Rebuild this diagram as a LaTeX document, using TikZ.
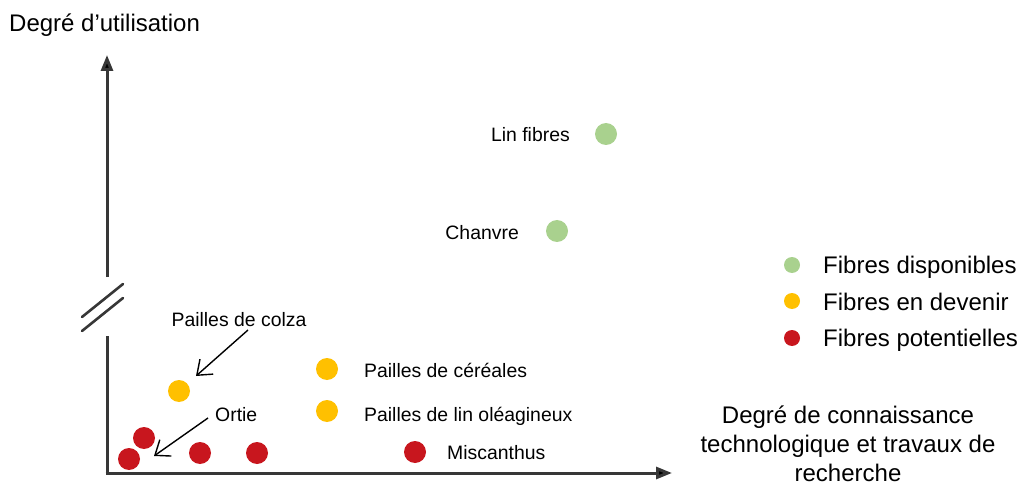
\documentclass[tikz,border=0pt]{standalone}
\usepackage{fontspec}
\setmainfont{Liberation Sans}
\usetikzlibrary{arrows.meta}
\definecolor{vert}{RGB}{169,209,142}
\definecolor{jaune}{RGB}{255,192,0}
\definecolor{rouge}{RGB}{200,22,30}
\definecolor{axe}{RGB}{55,55,55}
\tikzset{
  big/.style={font=\fontsize{24}{29}\selectfont, inner sep=0pt},
  small/.style={font=\fontsize{19.4}{23}\selectfont, inner sep=0pt},
  dot/.style={circle, inner sep=0pt, minimum size=22pt},
  ldot/.style={circle, inner sep=0pt, minimum size=16pt},
  axisline/.style={draw=axe, line width=3pt},
  breakline/.style={draw=axe, line width=2.6pt, line cap=round},
  pointer/.style={draw=black, line width=1.4pt, -{Straight Barb[length=13pt,width=20pt,line width=1.4pt]}},
}
\begin{document}
\begin{tikzpicture}[x=1pt,y=-1pt]
\useasboundingbox (0,0) rectangle (1021,484);
% axes
\coordinate (o) at (107,473);
\coordinate (ytop) at (107,55);
\coordinate (ybrkA) at (107,277);
\coordinate (ybrkB) at (107,336);
\coordinate (xend) at (672,473);
\coordinate (ocorner) at (105.5,473);
\draw[axisline, -{Triangle[length=16pt,width=12pt,fill=black]}] (ybrkA) -- (ytop);
\draw[axisline] (ybrkB) -- (o);
\draw[axisline, -{Triangle[length=16pt,width=12pt,fill=black]}] (ocorner) -- (xend);
% break marks
\coordinate (b1a) at (82,317); \coordinate (b1b) at (123,284);
\coordinate (b2a) at (82,331); \coordinate (b2b) at (123,298);
\draw[breakline] (b1a) -- (b1b);
\draw[breakline] (b2a) -- (b2b);
% axis labels
\node[big, anchor=base west] (ylab) at (9,31.5) {Degré d’utilisation};
\node[big, align=center, anchor=base] (xlab) at (848,481) {Degré de connaissance\\technologique et travaux de\\recherche};
% dots
\node[dot, fill=vert] (lin) at (606,134) {};
\node[dot, fill=vert] (chanvre) at (557,231) {};
\node[dot, fill=jaune] (colza) at (179,391) {};
\node[dot, fill=jaune] (cereales) at (327,369) {};
\node[dot, fill=jaune] (linol) at (327,411) {};
\node[dot, fill=rouge] (ortieA) at (144,438) {};
\node[dot, fill=rouge] (ortieB) at (129,459) {};
\node[dot, fill=rouge] (r3) at (200,453) {};
\node[dot, fill=rouge] (r4) at (257,453) {};
\node[dot, fill=rouge] (misc) at (415,452) {};
% labels
\node[small, anchor=base east] (linlab) at (570,142) {Lin fibres};
\node[small, anchor=base east] (chanlab) at (519,240) {Chanvre};
\node[small, anchor=base west] (cerlab) at (364,377) {Pailles de céréales};
\node[small, anchor=base west] (linollab) at (364,421) {Pailles de lin oléagineux};
\node[small, anchor=base west] (misclab) at (447,459) {Miscanthus};
\node[small, anchor=base] (colzalab) at (239,326) {Pailles de colza};
\node[small, anchor=base west] (ortielab) at (215,421) {Ortie};
% pointers
\coordinate (pc1) at (248,330); \coordinate (pc2) at (196,376);
\coordinate (po1) at (208,418); \coordinate (po2) at (154,456);
\draw[pointer] (pc1) -- (pc2);
\draw[pointer] (po1) -- (po2);
% legend
\node[ldot, fill=vert] (lg1) at (792,265) {};
\node[ldot, fill=jaune] (lg2) at (792,301) {};
\node[ldot, fill=rouge] (lg3) at (792,338) {};
\node[big, anchor=base west] (lt1) at (823,273) {Fibres disponibles};
\node[big, anchor=base west] (lt2) at (823,310) {Fibres en devenir};
\node[big, anchor=base west] (lt3) at (823,346) {Fibres potentielles};
\end{tikzpicture}
\end{document}
